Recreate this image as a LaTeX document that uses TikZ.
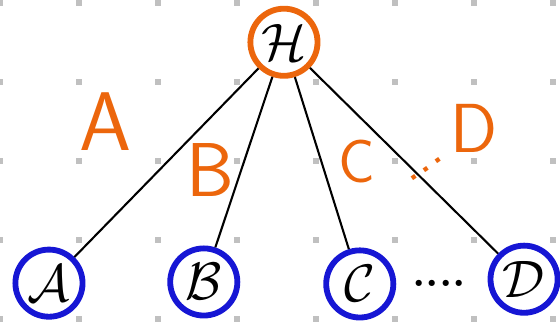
\RequirePackage{fix-cm}
\documentclass[tikz,border=0pt]{standalone}
\usepackage{amsmath, amssymb}
\usepackage{tikz}

\definecolor{penorange}{RGB}{236,102,12}
\definecolor{penblue}{RGB}{22,22,212}
\definecolor{griddot}{RGB}{192,192,192}

\begin{document}
\begin{tikzpicture}[
    root/.style={circle, draw=penorange, line width=4.2pt, minimum size=1.70cm, inner sep=0pt,
        font=\fontsize{38}{38}\selectfont},
    leaf/.style={circle, draw=penblue, line width=4.2pt, minimum size=1.70cm, inner sep=0pt,
        font=\fontsize{38}{38}\selectfont},
    branch/.style={draw, line width=1.5pt},
    lbl/.style={text=penorange, inner sep=0pt, font=\sffamily\fontsize{#1}{#1}\selectfont}
]
    \useasboundingbox (0,0) rectangle (14.18,8.23);

    % dotted paper
    \foreach \i in {0,...,7}
        \foreach \j in {0,...,4}
            \fill[griddot] ({2*\i-0.075},{0.15+2*\j-0.075}) rectangle ++(0.15,0.15);

    % top of the tree
    \node[root] (H) at (7.19,7.16) {$\mathcal{H}$};

    % children
    \node[leaf] (A) at (1.24,1.06) {$\mathcal{A}$};
    \node[leaf] (B) at (5.16,1.09) {$\mathcal{B}$};
    \node[leaf] (C) at (9.11,1.04) {$\mathcal{C}$};
    \node[leaf] (D) at (13.27,1.16) {$\mathcal{D}$};
    \node[font=\bfseries\fontsize{31}{31}\selectfont, inner sep=0pt, anchor=base] (more) at (11.12,0.98) {....};

    \draw[branch] (H) -- (A);
    \draw[branch] (H) -- (B);
    \draw[branch] (H) -- (C);
    \draw[branch] (H) -- (D);

    % edge labels
    \node[lbl=60] (labA) at (2.66,5.14) {A};
    \node[lbl=55] (labB) at (5.32,3.92) {B};
    \node[lbl=44] (labC) at (9.04,4.13) {C};
    \node[lbl=50] (labD) at (12.0,4.99) {D};
    \node[lbl=40, rotate=35, anchor=base] (labDots) at (10.82,3.90) {...};
\end{tikzpicture}
\end{document}
